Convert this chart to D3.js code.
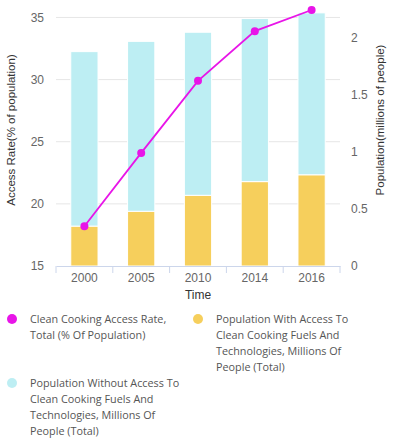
<!DOCTYPE html>
<html>
<head>
<meta charset="utf-8">
<script src="https://cdn.jsdelivr.net/npm/d3@7"></script>
<style>
  body { margin: 0; background: #fff; }
  svg { display: block; font-family: "Liberation Sans", Arial, sans-serif; }
  .legend { font-family: "Open Sans", "Noto Sans", sans-serif; font-size: 10.8px; fill: #555; }
</style>
</head>
<body>
<svg id="chart" width="395" height="444"></svg>
<script>
const years = ["2000", "2005", "2010", "2014", "2016"];
const accessRate = [18.2, 24.1, 29.9, 33.9, 35.6];
const withAccess = [0.35, 0.48, 0.62, 0.74, 0.80];
const withoutAccess = [1.53, 1.49, 1.43, 1.43, 1.42];
const leftTicks = [15, 20, 25, 30, 35];
const rightTicks = [0, 0.5, 1, 1.5, 2];

const colors = { line: "#e815e8", withA: "#f6cf5c", withoutA: "#bdeef3" };

const margin = { top: 10, left: 56, right: 55, bottom: 178 };
const W = 395, H = 444;
const svg = d3.select("#chart");

const x = d3.scaleBand().domain(years).range([margin.left, W - margin.right]).paddingInner(0.52).paddingOuter(0.26);
const xb = d3.scaleBand().domain(years).range([margin.left, W - margin.right]);
const yL = d3.scaleLinear().domain([15, 35.6]).range([H - margin.bottom, margin.top]);
const yR = d3.scaleLinear().domain([0, 2.245]).range([H - margin.bottom, margin.top]);

// gridlines
svg.append("g").selectAll("line").data(leftTicks.slice(1)).join("line")
  .attr("x1", margin.left).attr("x2", W - margin.right)
  .attr("y1", d => yL(d)).attr("y2", d => yL(d))
  .attr("stroke", "#e6e6e6").attr("stroke-width", 1);

// stacked bars
const stackData = years.map((y, i) => ({ year: y, withA: withAccess[i], withoutA: withoutAccess[i] }));
const series = d3.stack().keys(["withA", "withoutA"])(stackData);
svg.append("g").selectAll("g").data(series).join("g")
  .attr("fill", d => colors[d.key])
  .selectAll("rect").data(d => d).join("rect")
  .attr("x", d => x(d.data.year))
  .attr("width", x.bandwidth())
  .attr("y", d => yR(d[1]))
  .attr("height", d => yR(d[0]) - yR(d[1]))
  .attr("stroke", "#fff").attr("stroke-width", 1);

// line
const lineGen = d3.line().x((d, i) => xb(years[i]) + xb.bandwidth() / 2).y(d => yL(d));
svg.append("path").datum(accessRate).attr("d", lineGen)
  .attr("fill", "none").attr("stroke", colors.line).attr("stroke-width", 1.8);
svg.append("g").selectAll("circle").data(accessRate).join("circle")
  .attr("cx", (d, i) => xb(years[i]) + xb.bandwidth() / 2)
  .attr("cy", d => yL(d)).attr("r", 4).attr("fill", colors.line);

// x axis
const xAxis = svg.append("g").attr("transform", `translate(0,${H - margin.bottom})`)
  .call(d3.axisBottom(xb).tickSize(0).tickPadding(7));
xAxis.select(".domain").attr("stroke", "#ccd6eb");
xAxis.selectAll("text").attr("font-size", 12).attr("fill", "#666").attr("font-family", "Liberation Sans, Arial, sans-serif");
xAxis.append("g").selectAll("line").data(years.concat(["end"])).join("line")
  .attr("x1", (d, i) => margin.left + i * xb.bandwidth())
  .attr("x2", (d, i) => margin.left + i * xb.bandwidth())
  .attr("y1", 0).attr("y2", 7).attr("stroke", "#ccd6eb");

svg.append("text").attr("x", (margin.left + W - margin.right) / 2).attr("y", 298.5)
  .attr("text-anchor", "middle").attr("font-size", 12).attr("fill", "#333").text("Time");

// left axis
const yAxisL = svg.append("g").attr("transform", `translate(${margin.left - 12},0)`)
  .call(d3.axisLeft(yL).tickValues(leftTicks).tickSize(0).tickPadding(0));
yAxisL.select(".domain").remove();
yAxisL.selectAll("text").attr("font-size", 12).attr("fill", "#666").attr("font-family", "Liberation Sans, Arial, sans-serif");

// right axis
const yAxisR = svg.append("g").attr("transform", `translate(${W - margin.right + 11},0)`)
  .call(d3.axisRight(yR).tickValues(rightTicks).tickFormat(d3.format("~g")).tickSize(0).tickPadding(0));
yAxisR.select(".domain").remove();
yAxisR.selectAll("text").attr("font-size", 12).attr("fill", "#666").attr("font-family", "Liberation Sans, Arial, sans-serif");

// axis titles
svg.append("text").attr("transform", "translate(15,130) rotate(-90)")
  .attr("text-anchor", "middle").attr("font-size", 11.5).attr("fill", "#333").text("Access Rate(% of population)");
svg.append("text").attr("transform", "translate(384,120) rotate(-90)")
  .attr("text-anchor", "middle").attr("font-size", 11.5).attr("fill", "#333").text("Population(millions of people)");

// legend
const legendItems = [
  { color: colors.line, x: 12, y: 319, lines: ["Clean Cooking Access Rate,", "Total (% Of Population)"] },
  { color: colors.withA, x: 198, y: 319, lines: ["Population With Access To", "Clean Cooking Fuels And", "Technologies, Millions Of", "People (Total)"] },
  { color: colors.withoutA, x: 12, y: 383, lines: ["Population Without Access To", "Clean Cooking Fuels And", "Technologies, Millions Of", "People (Total)"] }
];
const lg = svg.append("g").selectAll("g").data(legendItems).join("g")
  .attr("transform", d => `translate(${d.x},${d.y})`);
lg.append("circle").attr("r", 5).attr("fill", d => d.color);
lg.append("text").attr("class", "legend").attr("x", 18)
  .selectAll("tspan").data(d => d.lines).join("tspan")
  .attr("x", 18).attr("y", (d, i) => i * 16 + 4).text(d => d);
</script>
</body>
</html>
